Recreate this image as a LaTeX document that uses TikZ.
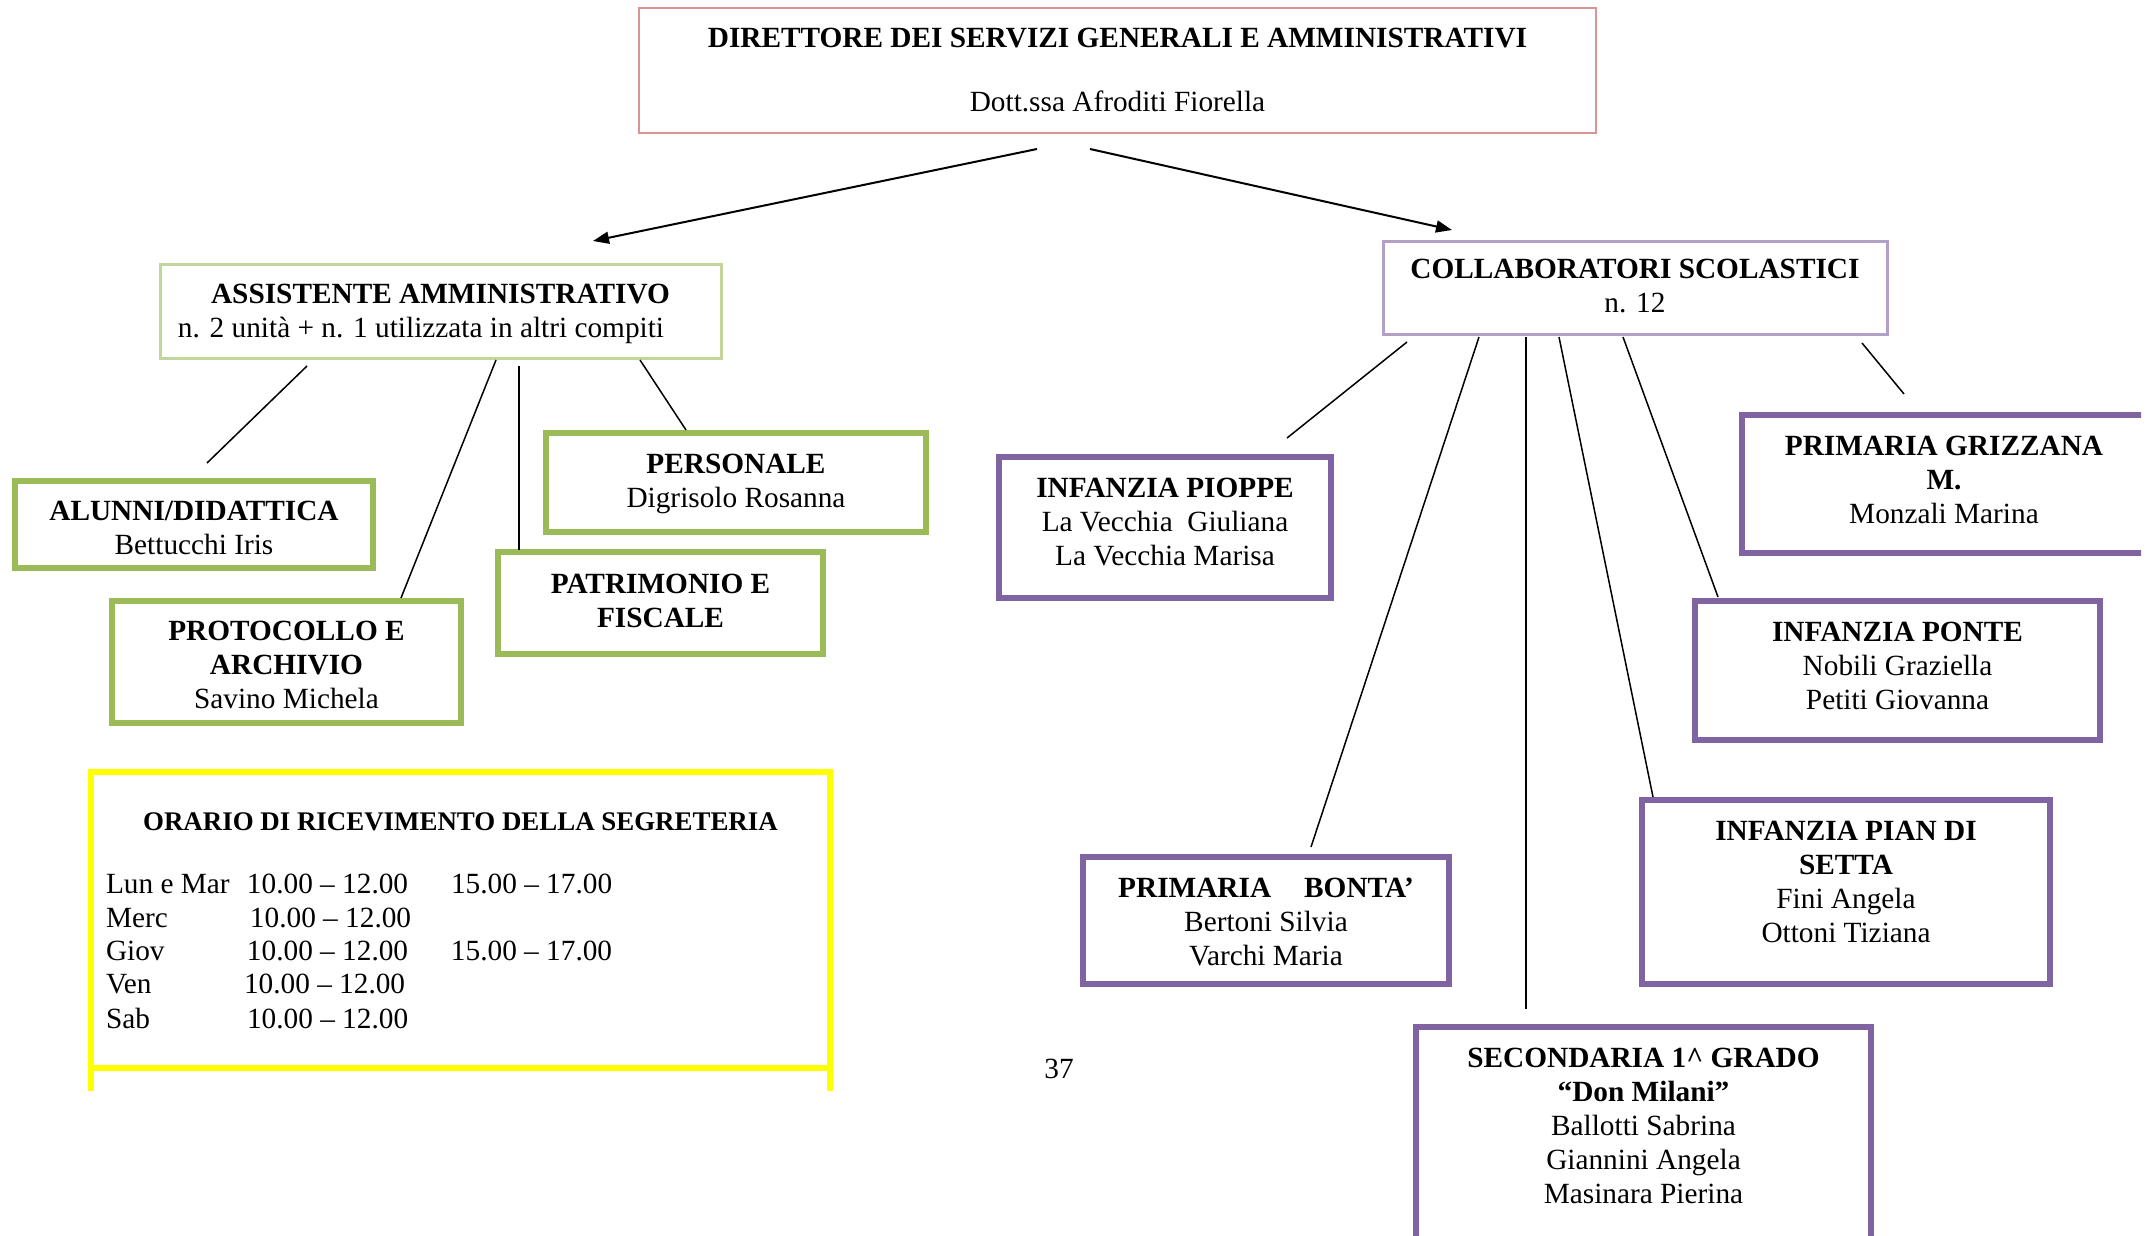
\documentclass[tikz,border=0pt]{standalone}
\usepackage{fontspec}
\setmainfont{Liberation Serif}
\usetikzlibrary{arrows.meta}
\definecolor{accgreen}{HTML}{9BBB59}
\definecolor{accpurple}{HTML}{8064A2}
\definecolor{lightgreen}{HTML}{C2D69B}
\definecolor{lightpurple}{HTML}{B2A1C7}
\definecolor{pinkred}{HTML}{D99594}
\definecolor{yel}{HTML}{FFFF00}
% box content: width, height, top padding, lines
\newcommand{\bx}[4]{\parbox[c][#2][t]{#1}{\centering\vspace*{#3}\strut#4}}
\tikzset{
  every node/.style={font=\fontsize{29.3}{34}\selectfont},
  orgbox/.style={anchor=north west, inner sep=0pt, outer sep=0pt},
  greenbox/.style={orgbox, draw=accgreen, line width=6.5pt},
  purplebox/.style={orgbox, draw=accpurple, line width=6.5pt},
  pinkbox/.style={orgbox, draw=pinkred, line width=2.5pt},
  lgreenbox/.style={orgbox, draw=lightgreen, line width=3pt},
  lpurplebox/.style={orgbox, draw=lightpurple, line width=3pt},
  link/.style={draw=black, line width=1.5pt},
  arrowlink/.style={draw=black, line width=2pt, -{Triangle[length=16pt,width=12pt]}},
  plain/.style={inner sep=0pt, outer sep=0pt},
}
\begin{document}
\begin{tikzpicture}[x=1pt,y=-1pt]
\useasboundingbox (0,0) rectangle (2150,1236);

% top
\node[pinkbox] (dsga) at (639,8) {\bx{957pt}{125pt}{15.7pt}{\textbf{DIRETTORE DEI SERVIZI GENERALI E AMMINISTRATIVI}\\[30pt] Dott.ssa Afroditi Fiorella}};

% left branch
\node[lgreenbox] (asst) at (160,264) {\bx{561pt}{94pt}{15.2pt}{\textbf{ASSISTENTE AMMINISTRATIVO}\\ n. 2 unità + n. 1 utilizzata in altri compiti\hspace*{39pt}}};
\node[greenbox] (alunni) at (15,481) {\bx{358pt}{87pt}{15.2pt}{\textbf{ALUNNI/DIDATTICA}\\ Bettucchi Iris}};
\node[greenbox] (protocollo) at (112,601) {\bx{349pt}{122pt}{15.2pt}{\textbf{PROTOCOLLO E}\\ \textbf{ARCHIVIO}\\ Savino Michela}};
\node[greenbox] (patrimonio) at (498,552) {\bx{325pt}{102pt}{17.2pt}{\textbf{PATRIMONIO E}\\ \textbf{FISCALE}}};
\node[greenbox] (personale) at (546,433) {\bx{380pt}{99pt}{16.2pt}{\textbf{PERSONALE}\\ Digrisolo Rosanna}};

% right branch
\node[lpurplebox] (coll) at (1383,241) {\bx{504pt}{93pt}{13.2pt}{\textbf{COLLABORATORI SCOLASTICI}\\ n. 12}};
\begin{scope}
\clip (0,0) rectangle (2141,1236);
\node[purplebox] (grizzana) at (1742,415) {\bx{404pt}{138pt}{16.2pt}{\textbf{PRIMARIA GRIZZANA}\\ \textbf{M.}\\ Monzali Marina}};
\end{scope}
\node[purplebox] (pioppe) at (999,457) {\bx{332pt}{141pt}{16.2pt}{\textbf{INFANZIA PIOPPE}\\ La Vecchia~ Giuliana\\ La Vecchia Marisa}};
\node[purplebox] (ponte) at (1695,601) {\bx{405pt}{139pt}{16.2pt}{\textbf{INFANZIA PONTE}\\ Nobili Graziella\\ Petiti Giovanna}};
\node[purplebox] (bonta) at (1083,857) {\bx{366pt}{127pt}{16.2pt}{\textbf{PRIMARIA\hspace{33pt}BONTA’}\\ Bertoni Silvia\\ Varchi Maria}};
\node[purplebox] (pian) at (1642,800) {\bx{408pt}{184pt}{16.2pt}{\textbf{INFANZIA PIAN DI}\\ \textbf{SETTA}\\ Fini Angela\\ Ottoni Tiziana}};
\node[purplebox] (secondaria) at (1416,1027) {\bx{455pt}{240pt}{16.2pt}{\textbf{SECONDARIA 1\textasciicircum\ GRADO}\\ \textbf{“Don Milani”}\\ Ballotti Sabrina\\ Giannini Angela\\ Masinara Pierina}};

% schedule box
\node[orgbox, draw=yel, line width=6pt, minimum width=739pt, minimum height=296pt] (orario) at (91,772) {};
\draw[yel, line width=6pt] (orario.south west) -- ++(0,23);
\draw[yel, line width=6pt] (orario.south east) -- ++(0,23);
\node[plain, anchor=base, font=\fontsize{26.9}{31}\selectfont\bfseries] (orariotitle) at (460.5,830) {ORARIO DI RICEVIMENTO DELLA SEGRETERIA};
\node[plain, anchor=base west] (row1) at (106,893) {\makebox[141pt][l]{Lun e Mar}\makebox[204pt][l]{10.00 -- 12.00}15.00 -- 17.00};
\node[plain, anchor=base west] (row2) at (106,927) {\makebox[144pt][l]{Merc}10.00 -- 12.00};
\node[plain, anchor=base west] (row3) at (106,960) {\makebox[141pt][l]{Giov}\makebox[204pt][l]{10.00 -- 12.00}15.00 -- 17.00};
\node[plain, anchor=base west] (row4) at (106,993) {\makebox[138pt][l]{Ven}10.00 -- 12.00};
\node[plain, anchor=base west] (row5) at (106,1028) {\makebox[141pt][l]{Sab}10.00 -- 12.00};

% page number
\node[plain, anchor=base] (pagenum) at (1059,1078) {37};

% connector end points
\coordinate (dsgaL) at (1037,149);
\coordinate (dsgaR) at (1090,149);
\coordinate (asstIn) at (593,241);
\coordinate (collIn) at (1452,230);
\coordinate (a1) at (307,366);  \coordinate (alunniIn) at (207,463);
\coordinate (a2) at (496,360);  \coordinate (protIn) at (401,598);
\coordinate (a3) at (519,366);  \coordinate (patrIn) at (519,550);
\coordinate (a4) at (640,360);  \coordinate (persIn) at (686,430);
\coordinate (c1) at (1407,342); \coordinate (pioppeIn) at (1287,438);
\coordinate (c2) at (1479,337); \coordinate (bontaIn) at (1311,847);
\coordinate (c3) at (1526,337); \coordinate (secIn) at (1526,1009);
\coordinate (c4) at (1559,337); \coordinate (pianIn) at (1653,797);
\coordinate (c5) at (1623,337); \coordinate (ponteIn) at (1718,597);
\coordinate (c6) at (1862,343); \coordinate (grizIn) at (1904,394);

\draw[arrowlink] (dsgaL) -- (asstIn);
\draw[arrowlink] (dsgaR) -- (collIn);
\draw[link] (a1) -- (alunniIn);
\draw[link] (a2) -- (protIn);
\draw[link] (a3) -- (patrIn);
\draw[link] (a4) -- (persIn);
\draw[link] (c1) -- (pioppeIn);
\draw[link] (c2) -- (bontaIn);
\draw[link] (c3) -- (secIn);
\draw[link] (c4) -- (pianIn);
\draw[link] (c5) -- (ponteIn);
\draw[link] (c6) -- (grizIn);
\end{tikzpicture}
\end{document}
